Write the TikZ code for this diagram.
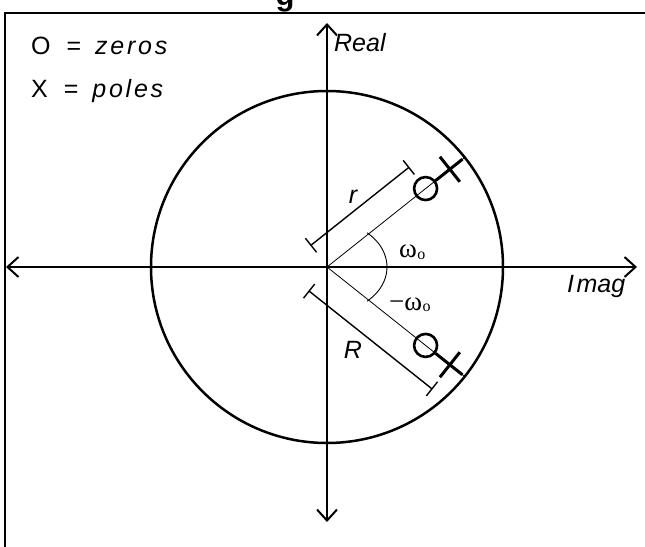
\documentclass[tikz,border=0pt]{standalone}
\usepackage{fontspec}
\setmainfont{Liberation Sans}
\newfontfamily\grfont{Liberation Serif}
\usetikzlibrary{arrows.meta,calc}
\begin{document}
\begin{tikzpicture}[x=1pt,y=1pt,
  barb/.tip={Straight Barb[length=11pt,width=20pt,line width=2pt]},
  axisline/.style={line width=2pt,barb-barb},
  frameline/.style={line width=2.5pt},
  unitcircle/.style={line width=2.5pt},
  rayline/.style={line width=0.8pt},
  zero/.style={circle,draw,line width=2.6pt,minimum size=23pt,inner sep=0pt},
  poleline/.style={line width=3pt},
  dimline/.style={line width=1.4pt},
  anglearc/.style={line width=0.9pt},
  lbl/.style={font=\fontsize{25}{30}\selectfont\itshape},
  grlbl/.style={font=\grfont\fontsize{27}{32}\selectfont},
  legend/.style={font=\fontsize{25}{30}\selectfont, anchor=base west, inner sep=0pt}
]
\useasboundingbox (-327,-279) rectangle (318,267);
% title (cut off)
\node[font=\bfseries\fontsize{31}{36}\selectfont, anchor=base, inner sep=0pt] (title) at (-42,261) {g};
% frame
\draw[frameline] (-322,-290) -- (-322,254) -- (330,254);
% axes
\coordinate (O) at (0,0);
\coordinate (atop) at (0,244);
\coordinate (abot) at (0,-255);
\coordinate (aleft) at (-321,0);
\coordinate (aright) at (310,0);
\draw[axisline] (abot) -- (atop);
\draw[axisline] (aleft) -- (aright);
% unit circle
\draw[unitcircle] (O) circle[radius=176];
% rays
\coordinate (re1) at (38.5:177);
\coordinate (re2) at (-38.5:177);
\draw[rayline] (O) -- (re1);
\draw[rayline] (O) -- (re2);
% zeros
\node[zero] (z1) at (38.5:126) {};
\node[zero] (z2) at (-38.5:126) {};
% poles
\coordinate (p1) at (38.5:157);
\coordinate (p2) at (-38.5:157);
\coordinate (pe1) at (38.5:173);
\coordinate (pe2) at (-38.5:173);
\draw[poleline] (z1) -- (pe1);
\draw[poleline] (z2) -- (pe2);
\draw[poleline] ($(p1)+(128.5:16)$) -- ($(p1)+(-51.5:16)$);
\draw[poleline] ($(p2)+(51.5:16)$) -- ($(p2)+(-128.5:16)$);
% r dimension
\begin{scope}[rotate=38.5]
  \coordinate (ra) at (1,27);
  \coordinate (rb) at (126,27);
  \draw[dimline] (ra) -- (rb);
  \draw[dimline] ($(ra)+(0,-9)$) -- ($(ra)+(0,9)$);
  \draw[dimline] ($(rb)+(0,-9)$) -- ($(rb)+(0,9)$);
\end{scope}
% R dimension
\begin{scope}[rotate=-38.5]
  \coordinate (Ra) at (1,-30);
  \coordinate (Rb) at (158,-30);
  \draw[dimline] (Ra) -- (Rb);
  \draw[dimline] ($(Ra)+(0,-9)$) -- ($(Ra)+(0,9)$);
  \draw[dimline] ($(Rb)+(0,-9)$) -- ($(Rb)+(0,9)$);
\end{scope}
% angle arc
\draw[anglearc] (-48:60 and 46) arc[start angle=-48,end angle=48,x radius=60,y radius=46];
% labels
\node[lbl, anchor=base west, inner sep=0pt] (real) at (7,215) {Real};
\node[lbl, anchor=base west, inner sep=0pt] (imag) at (240,-25) {I\kern2.5pt mag};
\node[lbl] (rlab) at (26,70) {r};
\node[lbl] (Rlab) at (26,-83) {R};
\node[grlbl, anchor=base west, inner sep=0pt] (w0) at (72,9) {ω\kern0.5pt\raisebox{-1pt}{\fontsize{16}{18}\selectfont o}};
\node[grlbl, anchor=base west, inner sep=0pt] (mw0) at (62,-43) {−ω\kern0.5pt\raisebox{-1pt}{\fontsize{16}{18}\selectfont o}};
% legend
\node[legend] (lz) at (-296,212) {O\hspace{16pt}=\hspace{14pt}{\itshape\addfontfeatures{LetterSpace=11}zeros}};
\node[legend] (lp) at (-296,169) {X\hspace{16pt}=\hspace{14pt}{\itshape\addfontfeatures{LetterSpace=11}poles}};
\end{tikzpicture}
\end{document}
